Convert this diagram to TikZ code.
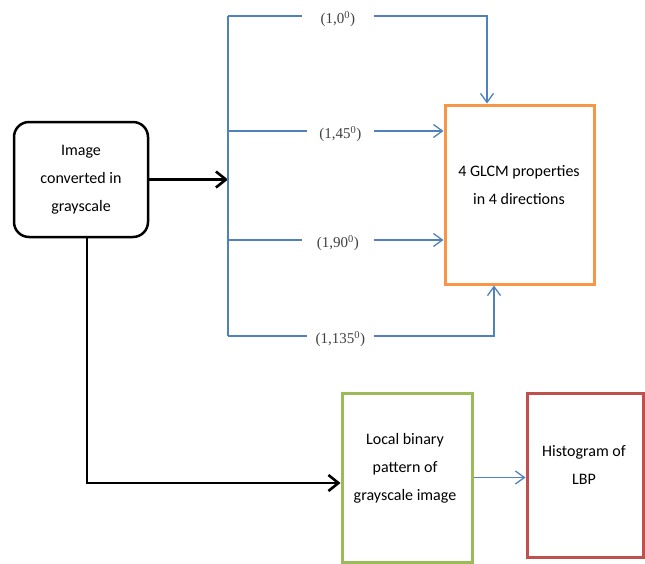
\documentclass[tikz,border=0pt]{standalone}
\usepackage{fontspec}
\setmainfont{Carlito}
\newfontfamily\lblfont{Liberation Serif}
\usetikzlibrary{arrows.meta}
\definecolor{lnblue}{RGB}{79,129,189}
\definecolor{boxorange}{RGB}{247,150,70}
\definecolor{boxgreen}{RGB}{155,187,89}
\definecolor{boxred}{RGB}{192,80,77}
\definecolor{lblgray}{RGB}{64,64,64}

\begin{document}
\begin{tikzpicture}[x=1pt,y=-1pt,
   boxtxt/.style={align=center,font=\fontsize{16}{28}\selectfont,inner sep=0pt},
   stagebox/.style={draw=#1,line width=3pt,inner sep=0pt},
   lbl/.style={font=\lblfont\fontsize{15}{17}\selectfont,text=lblgray,
               inner xsep=0pt,inner ysep=0pt,anchor=east},
   blk/.style={line width=2.6pt,-{Straight Barb[length=10pt,width=16pt]}},
   blu/.style={draw=lnblue,line width=1.3pt},
   bluarr/.style={blu,-{Straight Barb[length=9pt,width=13pt]}}]
   \useasboundingbox (0,0) rectangle (645,563);

   % boxes
   \node[draw,line width=2.5pt,rounded corners=15pt,minimum width=134pt,
         minimum height=115pt,boxtxt] (img) at (81,179.5)
         {Image\\converted in\\grayscale};
   \node[stagebox=boxorange,minimum width=149pt,minimum height=179pt]
         (glcm) at (519.5,194.5) {};
   \node[boxtxt] (glcmtxt) at (519,185) {4 GLCM properties\\in 4 directions};
   \node[stagebox=boxgreen,minimum width=130pt,minimum height=169pt]
         (lbp) at (407,477.5) {};
   \node[boxtxt] (lbptxt) at (405,468) {Local binary\\pattern of\\grayscale image};
   \node[stagebox=boxred,minimum width=116pt,minimum height=164pt]
         (hist) at (585,475) {};
   \node[boxtxt] (histtxt) at (584,465) {Histogram of\\LBP};

   % direction labels
   \node[lbl,minimum width=72pt] (l0)   at (374,19)  {(1,0\textsuperscript{0})};
   \node[lbl,minimum width=67pt] (l45)  at (374,134) {(1,45\textsuperscript{0})};
   \node[lbl,minimum width=72pt] (l90)  at (374,243) {(1,90\textsuperscript{0})};
   \node[lbl,minimum width=67pt] (l135) at (374,339) {(1,135\textsuperscript{0})};

   % spine
   \coordinate (hub)  at (228,178);
   \coordinate (s0)   at (228,16);
   \coordinate (s45)  at (228,131);
   \coordinate (s90)  at (228,240);
   \coordinate (s135) at (228,336);
   \coordinate (c0)   at (487,16);
   \coordinate (c135) at (494,336);
   \coordinate (bend) at (87,483);

   \draw[blk] (img.east) -- (img.east -| hub);
   \draw[blu] (s0) -- (s135);
   \draw[blu] (s0) -- (s0 -| l0.west);
   \draw[blu] (s45) -- (s45 -| l45.west);
   \draw[blu] (s90) -- (s90 -| l90.west);
   \draw[blu] (s135) -- (s135 -| l135.west);
   \draw[bluarr] (s0 -| l0.east) -- (c0) -- (c0 |- glcm.north);
   \draw[bluarr] (s45 -| l45.east) -- (s45 -| glcm.west);
   \draw[bluarr] (s90 -| l90.east) -- (s90 -| glcm.west);
   \draw[bluarr] (s135 -| l135.east) -- (c135) -- (c135 |- glcm.south);

   % LBP branch
   \draw[blk] (img.south -| bend) -- (bend) -- (bend -| lbp.west);
   \draw[bluarr] (lbp.east) -- (lbp.east -| hist.west);
\end{tikzpicture}
\end{document}
